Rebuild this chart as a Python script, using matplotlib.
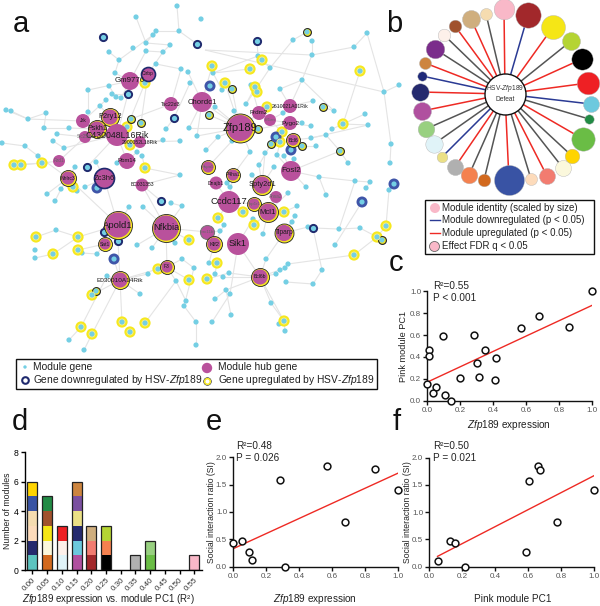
import matplotlib
matplotlib.use("Agg")
import matplotlib.pyplot as plt
from matplotlib.collections import LineCollection
from matplotlib.patches import Rectangle

plt.rcParams['font.family'] = ['Liberation Sans', 'DejaVu Sans']
plt.rcParams['mathtext.fontset'] = 'custom'
plt.rcParams['mathtext.rm'] = 'Liberation Sans'
plt.rcParams['mathtext.it'] = 'Liberation Sans:italic'

# Panel a: network, in picture pixels

module_genes = [
    (177,6),(136,17),(179,31),(156,31),(153,35),(146,43),(170,45),(133,48),(146,51),(163,52),(109,52),(119,60),
    (156,64),(181,69),(188,72),(115,73),(190,83),(109,86),(88,90),(112,94),(116,97),(121,98),(106,100),(100,106),
    (88,112),(6,110),(11,111),(46,113),(28,119),(44,128),(69,128),(57,134),(53,141),(64,148),(2,143),(25,146),
    (38,156),(75,167),(96,162),(117,163),(137,152),(142,156),(163,140),(180,141),(197,136),(166,129),(189,128),
    (201,19),(367,33),(293,40),(312,41),(354,47),(258,56),(312,55),(270,68),(302,80),(384,92),(399,85),(222,90),
    (251,85),(280,89),(313,101),(246,104),(334,111),(365,114),(215,107),(234,111),(311,126),(368,125),(332,129),
    (326,135),(311,138),(316,146),(218,137),(232,141),(206,150),(250,152),(265,153),(277,155),(284,156),(294,159),
    (259,165),(274,167),(348,163),(390,163),(391,144),(319,177),(252,175),(213,73),(283,113),(302,123),
    (180,175),(47,194),(61,189),(55,201),(77,191),(85,187),(129,207),(143,207),(171,203),(182,206),(56,230),
    (137,245),(152,248),(175,243),(35,250),(35,258),(82,253),(97,254),(182,259),(194,268),(148,274),(176,281),
    (107,276),(140,294),(186,301),(184,306),(196,322),(69,340),(196,345),(84,350),
    (355,181),(370,182),(366,188),(389,190),(306,187),(288,193),(326,195),(297,206),(295,216),(292,222),(253,219),
    (224,225),(220,231),(263,234),(339,229),(360,228),(308,227),(335,245),(266,259),(288,264),(285,268),(280,270),
    (276,274),(322,270),(286,282),(313,284),(209,263),(215,274),(223,277),(229,273),(226,290),(230,294),(215,299),
    (271,303),(231,315),(212,322),(279,324),(285,331),(227,183),(230,187),
]

up_genes = [
    (145,83),(127,127),(130,145),(14,165),(21,165),(42,163),(145,168),(212,66),(262,60),(250,69),(360,71),(225,83),
    (255,87),(257,92),(267,107),(343,124),(282,132),(280,142),(73,187),(36,237),(78,237),(189,240),(78,250),(53,254),
    (158,269),(189,280),(92,295),(81,327),(122,322),(145,323),(130,332),(92,334),(243,212),(218,218),(254,225),
    (284,212),(386,226),(377,237),(217,263),(354,255),(207,279),(284,321),
]
up_genes_outlined = [
    (131,119),(141,123),(232,89),(209,115),(323,107),(258,129),(271,144),(302,146),(340,151),(307,32),(96,291),(382,240),
]
down_genes_dark = [(103,37),(197,44),(128,94),(174,118),(87,167),(257,41),(161,201),(104,232),(118,241),(313,228)]
down_genes_soft = [(210,86),(276,137),(291,150),(97,188),(114,259),(394,184),(362,202)]

hub_names = ["Gm9776","Cirbp","Tsc22d3","Chordc1","P2ry12","Jrk","Pskh1","C430048L16Rik","Slc25a1","2900052L18Rik",
             "Rbm14","Fzd1","Nhlrc3","Zc3h6","Zfp189","Prdm2","Itf1an","2610021A01Rik","Pygo2","Bcl6","Fosl2","Hspa5",
             "P4ha1","BC031353","Apold1","Nfkbia","Sat1","F3","E030010A14Rik","Lrrc11b","Dnajb1","Spty2d1","Ahsa2",
             "Ccdc117","Ppp1r1","Mcl1","Tiparp","Klf2","Sik1","Bcl6b"]
hub_x = [130,148,171,202,110,83,97,117,85,140,127,59,68,104,240,259,270,290,290,293,291,208,233,142,118,166,105,167,
         120,207,216,262,276,229,254,268,284,214,238,260]
hub_y = [81,74,104,102,117,121,129,135,137,142,161,161,178,178,128,113,120,106,123,140,171,167,175,185,225,228,244,
         267,280,232,183,185,197,202,204,212,233,244,244,277]
hub_r = [9,7,7,10,9,7,9,11,6,6,8,6,8,10,14.5,7,6,7,7,7,10,7,7,6.5,14,14,7,7,9,7,6.5,10,6,11,7,10,9.5,8,11,9]
hub_ring = ["","down","","","up","","up","","","","","","up","down","up","","","","","up","","up","up","","up","up",
            "up","up","up","grey","","up","","","up","up","up","up","","up"]
hub_font = [5.7,3.5,3.8,5.6,5.3,3.6,5.0,6.3,3.4,3.7,4.2,3.4,3.6,5.5,8,4.5,3.2,3.7,4.6,3.6,5.8,3.2,3.6,3.6,6.8,6.7,
            3.6,3.6,4.6,3.2,3.6,5.4,3.4,6.8,3.2,5.6,4.8,4.2,6.6,3.6]

edges = [
    (177,6,179,31),(136,17,146,43),(156,31,146,43),(153,35,119,60),(179,31,156,31),(179,31,197,44),(146,43,170,45),
    (146,51,130,81),(163,52,148,74),(163,52,146,51),(119,60,115,73),(115,73,130,81),(109,52,119,60),(170,45,163,52),
    (88,90,130,81),(88,90,88,112),(109,86,116,97),(130,81,121,98),(128,94,112,94),(106,100,83,121),(100,106,110,117),
    (148,74,141,123),(145,83,127,127),(128,94,117,135),(156,64,181,69),(188,72,202,102),(190,83,174,118),
    (181,69,171,104),(171,104,131,119),(6,110,28,119),(11,111,28,119),(28,119,83,121),(46,113,44,128),(44,128,69,128),
    (69,128,97,129),(57,134,85,137),(53,141,64,148),(2,143,25,146),(25,146,38,156),(38,156,42,163),(14,165,42,163),
    (21,165,42,163),(46,113,28,119),(42,163,59,161),(59,161,85,137),(64,148,117,135),(38,156,68,178),(75,167,68,178),
    (87,167,117,135),(96,162,104,178),(117,163,127,161),(127,161,117,135),(137,152,127,161),(142,156,145,168),
    (163,140,130,145),(180,141,140,142),(197,136,202,102),(166,129,174,118),(189,128,202,102),(189,128,240,128),
    (180,175,145,168),(197,136,240,128),(202,102,240,128),(212,66,202,102),(213,73,222,90),(225,83,240,128),
    (232,89,240,128),(215,107,240,128),(234,111,240,128),(209,115,240,128),(218,137,240,128),(232,141,240,128),
    (206,150,218,137),(250,152,240,128),(259,113,240,128),(251,85,259,113),(255,87,246,104),(262,60,270,68),
    (257,41,258,56),(258,56,213,73),(250,69,213,73),(270,68,246,104),(280,89,290,106),(283,113,270,120),
    (290,123,270,120),(267,107,290,106),(293,40,270,68),(312,41,312,55),(312,55,302,80),(302,80,334,111),
    (302,80,290,106),(302,80,280,89),(313,101,290,106),(311,126,290,123),(332,129,343,124),(326,135,311,138),
    (311,138,293,140),(316,146,302,146),(293,140,291,150),(340,151,326,135),(348,163,340,151),(340,151,291,171),
    (319,177,291,171),(306,187,291,171),(288,193,268,212),(262,185,259,165),(265,153,262,185),(250,152,233,175),
    (208,167,232,141),(277,155,291,171),(284,156,291,171),(294,159,291,171),(274,167,262,185),(271,144,259,165),
    (280,142,277,155),(276,137,290,123),(258,129,290,123),(282,132,270,120),(334,111,323,107),(365,114,343,124),
    (368,125,343,124),(343,124,360,71),(367,33,354,47),(354,47,312,55),(384,92,399,85),(384,92,367,33),(384,92,205,50),
    (205,50,312,55),(391,144,384,92),(390,163,391,144),(307,32,293,40),(311,138,368,125),(216,183,229,202),
    (229,202,254,204),(233,175,229,202),(252,176,262,185),(276,197,268,212),(243,212,229,202),(218,218,229,202),
    (254,225,268,212),(284,212,268,212),(253,219,238,244),(224,225,214,244),(220,231,207,232),(263,234,268,212),
    (295,216,284,233),(292,222,284,233),(297,206,284,212),(284,233,266,259),(238,244,230,294),(238,244,260,277),
    (214,244,209,263),(207,232,166,228),(266,259,260,277),(260,277,229,273),(260,277,223,277),(260,277,285,268),
    (276,274,260,277),(288,264,354,255),(286,282,313,284),(313,284,322,270),(322,270,313,228),(308,227,284,233),
    (313,228,339,229),(339,229,360,228),(360,228,377,237),(377,237,386,226),(386,226,389,190),(354,255,377,237),
    (335,245,362,202),(355,181,339,229),(370,182,355,181),(366,188,370,182),(326,195,319,177),(319,177,355,181),
    (215,299,226,290),(212,322,230,294),(231,315,226,290),(207,279,229,273),(209,263,217,263),(215,274,217,263),
    (260,277,271,303),(271,303,284,321),(260,277,284,321),(279,324,284,321),(285,331,284,321),(226,290,260,277),
    (47,194,68,178),(61,189,68,178),(55,201,61,189),(77,191,73,187),(85,187,104,178),(97,188,104,178),(104,178,118,225),
    (68,178,118,225),(129,207,118,225),(143,207,166,228),(142,185,166,228),(161,201,142,185),(171,203,182,206),
    (182,206,166,228),(142,185,180,175),(36,237,56,230),(56,230,78,237),(78,237,118,225),(78,250,105,244),(82,253,97,254),
    (97,254,118,225),(53,254,78,237),(35,258,53,254),(118,225,105,244),(118,241,118,225),(137,245,166,228),
    (152,248,166,228),(175,243,166,228),(189,240,166,228),(182,259,167,267),(167,267,158,269),(167,267,166,228),
    (148,274,120,280),(158,269,120,280),(176,281,167,267),(194,268,182,259),(189,280,167,267),(120,280,118,241),
    (107,276,120,280),(114,259,120,280),(92,295,120,280),(120,280,122,322),(176,281,145,323),(81,327,107,276),
    (92,334,120,280),(84,350,92,334),(69,340,81,327),(140,294,120,280),(186,301,176,281),(184,306,194,268),
    (196,322,184,306),(196,345,196,322),
]

# Panel b: modules around the centre, in picture pixels

centre_xy = (505, 94)
module_x = [504,528,486,471,455,444,435,425,422,420,422,426,434,442,455,469,484,509,531,547,563,572,583,589,591,588,
            582,571,553]
module_y = [9,15,14,19,26,35,49,63,76,92,111,129,144,157,167,175,180,180,179,176,168,156,139,119,104,83,59,41,27]
module_r = [10.3,12.7,6,9,6.3,6.3,9.3,6,4.7,8.7,9,8.3,8.7,5.3,8,8.3,6.3,15,6,8,8,7.3,11.7,4.7,8,11.3,10.7,9,12]
module_colors = ["#f9b8c8","#a2282b","#f5dcb0","#cfae7e","#a0522d","#fdf0ea","#7b2d8b","#cd853f","#1f2a7a","#252a6e",
                 "#b0509f","#98d080","#e0f3f8","#ebe086","#b0b0b0","#f4814f","#d2691e","#3953a4","#fddbbb","#f27c70",
                 "#fbf8dc","#ffd400","#6abd45","#228b45","#6cc9de","#ee2024","#000000","#b5d433","#f5e616"]
module_effect = ["up","down","none","up","up","none","none","up","down","up","up","none","none","down","up","none",
                 "none","up","none","up","none","none","up","none","down","up","up","none","up"]

# Panel c
c_x = [0,0.012,0.008,0.093,0.053,0.032,0.11,0.144,0.20,0.282,0.30,0.312,0.353,0.415,0.414,0.572,0.68,0.862,1.0]
c_y = [0.15,0.46,0.41,0.59,0.125,0.07,0.05,0.0,0.207,0.604,0.345,0.213,0.463,0.387,0.192,0.662,0.774,0.674,1.0]
c_fit_x = [0, 1]
c_fit_y = [0.17, 0.87]

# Panel d
d_labels = ["0.00","0.05","0.10","0.15","0.20","0.25","0.30","0.35","0.40","0.45","0.50","0.55"]
d_stacks = [
    ["#5cc4c0","#252a6e","#fddbbb","#f5dcb0","#3953a4","#ffd400"],
    ["#d2691e","#fbf8dc","#f5e616","#a0522d","#228b45"],
    ["#e0f3f8","#fdf0ea","#ee2024"],
    ["#b0509f","#6cc9de","#252a6e","#ebe086","#7b50a0","#cd853f"],
    ["#a2282b","#f27c70","#cfae7e"],
    ["#000000","#f4814f","#b5d433"],
    [],
    ["#b0b0b0"],
    ["#6abd45","#98d080"],
    [],
    [],
    ["#f9b8c8"],
]

# Panel e
e_x = [0,0.053,0.093,0.111,0.312,0.281,0.569,0.678,0.86,1.0]
e_y = [0.44,0.476,0.262,0.116,0.0,1.58,1.84,0.823,1.78,1.40]
e_fit_x = [0, 1]
e_fit_y = [0.33, 1.71]

# Panel f
f_x = [0.053,0.125,0.154,0.215,0.587,0.605,0.662,0.672,0.773,1.0]
f_y = [0.11,0.477,0.434,0.0,0.263,1.578,1.84,1.78,0.826,1.405]
f_fit_x = [0.05, 1]
f_fit_y = [0.19, 1.67]

CYAN = "#74cfe4"
YELLOW = "#f6e81e"
NAVY = "#1f2a6e"
MAGENTA = "#b9519c"
RED = "#ee2a24"
BLUE = "#2a3a94"
GREY_LINE = "#555555"

W, H = 600, 606
fig = plt.figure(figsize=(W / 100, H / 100), dpi=100, facecolor="white")

overlay = fig.add_axes([0, 0, 1, 1])
overlay.set_xlim(0, W)
overlay.set_ylim(H, 0)
overlay.axis("off")


def size(r):
    # radius in picture pixels to scatter size
    return (2 * r * 0.72) ** 2


def dots(xy, r, color, edge="none", lw=0, z=3):
    xs = [p[0] for p in xy]
    ys = [p[1] for p in xy]
    overlay.scatter(xs, ys, s=size(r), c=color, edgecolors=edge, linewidths=lw, zorder=z)


def axes_px(left, top, right, bottom):
    return fig.add_axes([left / W, 1 - bottom / H, (right - left) / W, (bottom - top) / H], facecolor="none")


# network
segs = [[(e[0], e[1]), (e[2], e[3])] for e in edges]
overlay.add_collection(LineCollection(segs, colors="#e4e4e4", linewidths=0.8, zorder=1))
dots(module_genes, 2.6, CYAN)
dots(up_genes, 5.6, YELLOW, z=3)
dots(up_genes, 3.5, "#f9f08c", z=3.1)
dots(up_genes, 2.6, CYAN, z=3.2)
dots(up_genes_outlined, 3.9, YELLOW, edge="#222222", lw=0.8, z=3)
dots(up_genes_outlined, 2.6, CYAN, z=3.2)
dots(down_genes_dark, 3.6, CYAN, edge=NAVY, lw=1.4, z=3)
dots(down_genes_soft, 5.5, "#3f55a8", z=3)
dots(down_genes_soft, 2.6, CYAN, z=3.2)

for name, x, y, r, ring, fs in zip(hub_names, hub_x, hub_y, hub_r, hub_ring, hub_font):
    if ring == "up":
        dots([(x, y)], r, YELLOW, edge="#222222", lw=0.6, z=4)
        dots([(x, y)], r - 1.4, MAGENTA, z=4.1)
    elif ring == "down":
        dots([(x, y)], r, MAGENTA, edge=NAVY, lw=1.2, z=4)
    elif ring == "grey":
        dots([(x, y)], r, MAGENTA, edge="#777777", lw=0.8, z=4)
    else:
        dots([(x, y)], r, MAGENTA, z=4)
    label_col = "#666666" if fs <= 3.4 else "#1a1a1a"
    overlay.text(x, y, name, fontsize=fs, color=label_col, ha="center", va="center", zorder=5)

# legend of panel a
overlay.add_patch(Rectangle((16, 359), 361, 30, fc="white", ec="#111111", lw=1.0, zorder=6))
dots([(25, 367)], 1.7, CYAN, z=7)
dots([(207, 368)], 5.2, MAGENTA, z=7)
dots([(25, 380)], 3.3, "white", edge=NAVY, lw=1.5, z=7)
dots([(207, 381)], 3.8, "white", edge="#222222", lw=0.5, z=7)
dots([(207, 381)], 2.8, "white", edge=YELLOW, lw=1.1, z=7.1)
for x, y, s in [(33, 367, "Module gene"), (218, 367, "Module hub gene"),
                (33, 380, r"Gene downregulated by HSV-$\it{Zfp189}$"),
                (218, 380, r"Gene upregulated by HSV-$\it{Zfp189}$")]:
    overlay.text(x, y, s, fontsize=7.4, color="#222222", ha="left", va="center", zorder=7)

# panel b
for x, y, r, col, eff in zip(module_x, module_y, module_r, module_colors, module_effect):
    line_col = {"up": RED, "down": BLUE, "none": GREY_LINE}[eff]
    overlay.plot([centre_xy[0], x], [centre_xy[1], y], color=line_col, lw=1.1, zorder=2)
    dots([(x, y)], r, col, edge="#b5b5b5", lw=0.3, z=3)
dots([centre_xy], 20.5, "white", edge="#111111", lw=1.0, z=4)
overlay.text(centre_xy[0], centre_xy[1] - 1, "HSV-$\\it{Zfp189}$\nDefeat", fontsize=4.8, color="#333333",
             ha="center", va="center", zorder=5, linespacing=1.4)

overlay.add_patch(Rectangle((425, 200), 169, 54, fc="white", ec="#111111", lw=1.0, zorder=6))
dots([(435, 208)], 5, "#f9b8c8", z=7)
overlay.plot([430, 440], [220, 220], color=BLUE, lw=1.0, zorder=7)
overlay.plot([430, 440], [233, 233], color=RED, lw=1.0, zorder=7)
dots([(434, 246)], 5, "#f9b8c8", edge="#666666", lw=0.6, z=7)
for y, s in [(208, "Module identity (scaled by size)"), (220, "Module downregulated (p < 0.05)"),
             (233, "Module upregulated (p < 0.05)"), (246, "Effect FDR q < 0.05")]:
    overlay.text(442, y, s, fontsize=7.0, color="#222222", ha="left", va="center", zorder=7)

# panel letters
for x, y, s in [(13, 32, "a"), (386, 32, "b"), (389, 271, "c"), (12, 430, "d"), (206, 430, "e"), (393, 430, "f")]:
    overlay.text(x, y, s, fontsize=21, color="#111111", ha="left", va="baseline", zorder=8)


def scatter_panel(ax, x, y, fit_x, fit_y, ymax, yticks):
    ax.plot(fit_x, fit_y, color=RED, lw=1.0, zorder=2)
    ax.scatter(x, y, s=24, facecolors="white", edgecolors="#111111", linewidths=1.1, zorder=3, clip_on=False)
    ax.set_xlim(0, 1)
    ax.set_ylim(0, ymax)
    ax.set_xticks([0, 0.2, 0.4, 0.6, 0.8, 1.0])
    ax.set_yticks(yticks)
    ax.set_xticklabels(["0.0", "0.2", "0.4", "0.6", "0.8", "1.0"])
    ax.set_yticklabels([f"{t:.1f}" for t in yticks])
    ax.spines["top"].set_visible(False)
    ax.spines["right"].set_visible(False)
    for side in ["left", "bottom"]:
        ax.spines[side].set_linewidth(1.0)
        ax.spines[side].set_color("#111111")
    ax.tick_params(length=3, width=1.0, pad=1.5, labelsize=5.8, labelcolor="#555555", color="#111111")


# panel c
ax_c = axes_px(427.3, 291.3, 591.7, 400.7)
scatter_panel(ax_c, c_x, c_y, c_fit_x, c_fit_y, 1.0, [0, 0.2, 0.4, 0.6, 0.8, 1.0])
overlay.text(433, 286, "R\u00b2=0.55", fontsize=7.2, color="#222222", va="center", zorder=8)
overlay.text(433, 298, "P < 0.001", fontsize=7.2, color="#222222", va="center", zorder=8)
overlay.text(404, 346, "Pink module PC1", fontsize=6.6, color="#222222", rotation=90, ha="center", va="center")
overlay.text(509, 425, r"$\it{Zfp189}$ expression", fontsize=7.2, color="#222222", ha="center", va="center")

# panel d
ax_d = axes_px(25, 452.3, 201.7, 570)
for i, stack in enumerate(d_stacks):
    for j, col in enumerate(stack):
        ax_d.bar(i, 1, bottom=j, width=0.68, color=col, linewidth=0, zorder=2)
    if stack:
        ax_d.bar(i, len(stack), width=0.68, fill=False, edgecolor="#222222", linewidth=0.9, zorder=3)
ax_d.set_xlim(-0.5, 11.5)
ax_d.set_ylim(0, 8)
ax_d.set_yticks([0, 2, 4, 6, 8])
ax_d.set_xticks(range(len(d_labels)))
ax_d.set_xticklabels(d_labels, rotation=45, ha="right", rotation_mode="anchor", fontsize=5.8, color="#333333")
ax_d.spines["top"].set_visible(False)
ax_d.spines["right"].set_visible(False)
ax_d.spines["left"].set_linewidth(1.0)
ax_d.spines["bottom"].set_linewidth(1.0)
ax_d.tick_params(axis="y", length=3, width=1.0, pad=1.5, labelsize=6.2)
ax_d.tick_params(axis="x", length=3, width=1.0, pad=1.5)
overlay.text(8, 511, "Number of modules", fontsize=6.3, color="#222222", rotation=90, ha="center", va="center")
overlay.text(108, 599, "$\\it{Zfp189}$ expression vs. module PC1 (R\u00b2)", fontsize=7.0, color="#222222",
             ha="center", va="center")

# panel e
ax_e = axes_px(233.3, 457.3, 398, 566.7)
scatter_panel(ax_e, e_x, e_y, e_fit_x, e_fit_y, 2.0, [0, 0.5, 1.0, 1.5, 2.0])
overlay.text(236, 446, "R\u00b2=0.48", fontsize=7.2, color="#222222", va="center", zorder=8)
overlay.text(236, 458, "P = 0.026", fontsize=7.2, color="#222222", va="center", zorder=8)
overlay.text(211, 512, "Social interaction ratio (SI)", fontsize=6.2, color="#222222", rotation=90, ha="center", va="center")
overlay.text(315, 599, r"$\it{Zfp189}$ expression", fontsize=7.2, color="#222222", ha="center", va="center")

# panel f
ax_f = axes_px(429.3, 457.7, 594, 566.7)
scatter_panel(ax_f, f_x, f_y, f_fit_x, f_fit_y, 2.0, [0, 0.5, 1.0, 1.5, 2.0])
overlay.text(433, 446, "R\u00b2=0.50", fontsize=7.2, color="#222222", va="center", zorder=8)
overlay.text(433, 458, "P = 0.021", fontsize=7.2, color="#222222", va="center", zorder=8)
overlay.text(407, 512, "Social interaction ratio (SI)", fontsize=6.2, color="#222222", rotation=90, ha="center", va="center")
overlay.text(513, 599, "Pink module PC1", fontsize=7.2, color="#222222", ha="center", va="center")

fig.savefig("out.png", dpi=100)
